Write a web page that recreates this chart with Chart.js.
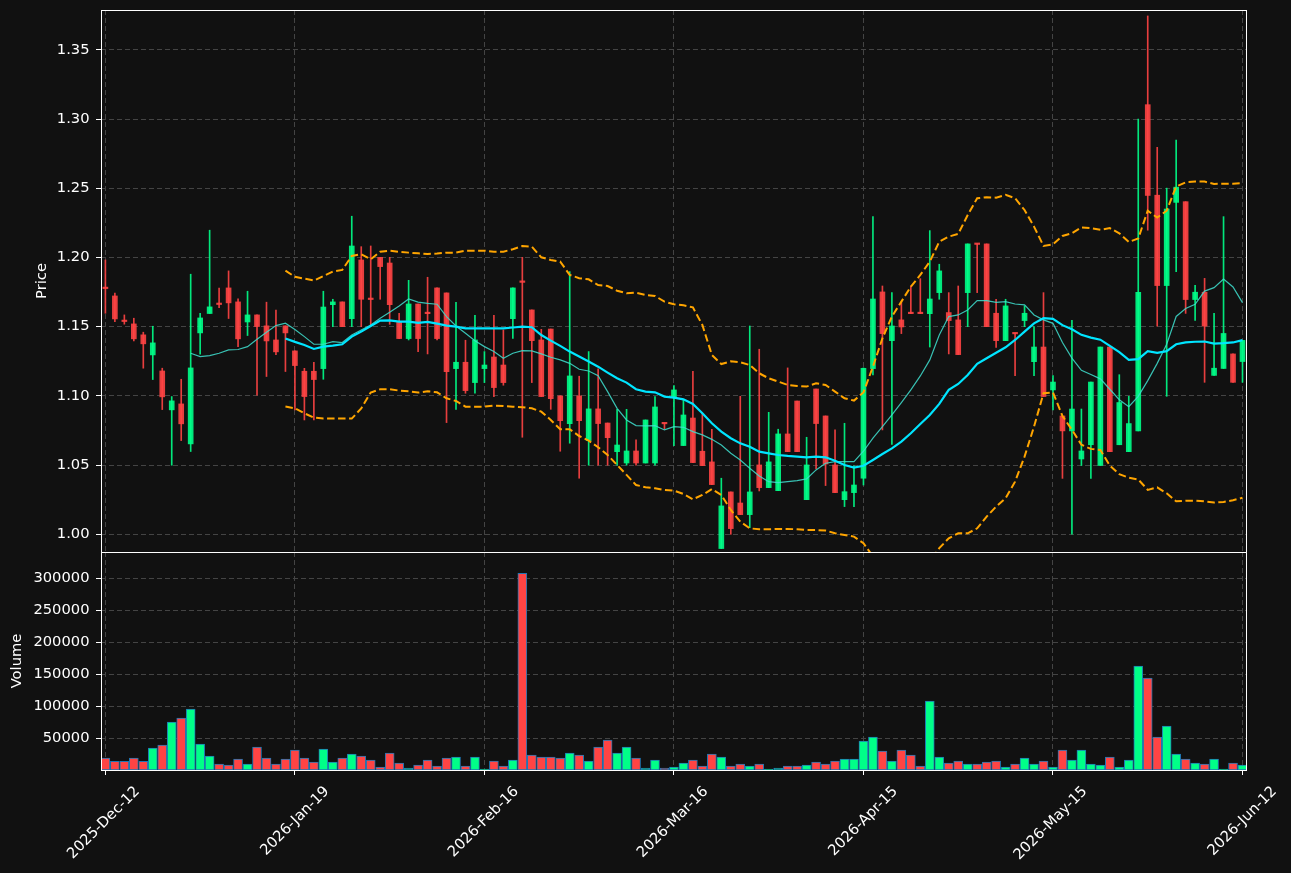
<!DOCTYPE html>
<html>
<head>
<meta charset="utf-8">
<title>Price / Volume</title>
<script src="https://cdn.jsdelivr.net/npm/chart.js@4.4.1/dist/chart.umd.min.js"></script>
<style>
    html, body { margin: 0; padding: 0; background: #111111; }
    #wrap { position: relative; width: 1291px; height: 873px; }
    canvas { position: absolute; left: 0; }
    #price { top: 0; }
    #volume { top: 551px; }
</style>
</head>
<body>
<div id="wrap">
    <canvas id="price" width="1291" height="553"></canvas>
    <canvas id="volume" width="1291" height="322"></canvas>
</div>
<script>
/* ==========================================================================
   Daily candles 2025-Dec-12 .. 2026-Jun-12 (121 sessions, index 0 = first)
   ========================================================================== */

const opens = [
    1.1780, 1.1722, 1.1542, 1.1520, 1.1441, 1.1296, 1.1180, 1.0899, 1.0942, 1.0653,
    1.1455, 1.1595, 1.1663, 1.1780, 1.1679, 1.1534, 1.1585, 1.1506, 1.1404, 1.1506,
    1.1325, 1.1178, 1.1178, 1.1197, 1.1659, 1.1679, 1.1558, 1.1982, 1.1700, 1.2001,
    1.1960, 1.1537, 1.1414, 1.1664, 1.1597, 1.1780, 1.1744, 1.1197, 1.1243, 1.1096,
    1.1197, 1.1281, 1.1223, 1.1558, 1.1823, 1.1621, 1.1404, 1.1483, 1.1000, 1.0799,
    1.1000, 1.0677, 1.0906, 1.0804, 1.0597, 1.0515, 1.0602, 1.0515, 1.0515, 1.0802,
    1.0990, 1.0641, 1.0840, 1.0600, 1.0523, 0.9897, 1.0306, 1.0226, 1.0142, 1.0501,
    1.0337, 1.0315, 1.0725, 1.0963, 1.0250, 1.1050, 1.0855, 1.0501, 1.0250, 1.0301,
    1.0405, 1.1197, 1.1751, 1.1399, 1.1549, 1.1597, 1.1597, 1.1594, 1.1746, 1.1602,
    1.1549, 1.1746, 1.2098, 1.2098, 1.1597, 1.1399, 1.1452, 1.1544, 1.1247, 1.1353,
    1.1043, 1.0855, 1.0747, 1.0544, 1.0647, 1.0497, 1.1353, 1.0647, 1.0597, 1.0747,
    1.3104, 1.2450, 1.1797, 1.2398, 1.2403, 1.1696, 1.1749, 1.1148, 1.1198, 1.1303,
    1.1248
];
const highs = [
    1.1982, 1.1742, 1.1585, 1.1561, 1.1460, 1.1503, 1.1200, 1.0995, 1.1120, 1.1879,
    1.1597, 1.2197, 1.1778, 1.1903, 1.1701, 1.1756, 1.1585, 1.1677, 1.1619, 1.1506,
    1.1325, 1.1199, 1.1243, 1.1756, 1.1698, 1.1679, 1.2298, 1.2078, 1.2083, 1.2001,
    1.2001, 1.1597, 1.1835, 1.1664, 1.1857, 1.1780, 1.1744, 1.1676, 1.1402, 1.1582,
    1.1320, 1.1582, 1.1476, 1.1780, 1.2001, 1.1621, 1.1481, 1.1483, 1.1000, 1.1898,
    1.1142, 1.1320, 1.1195, 1.0804, 1.0903, 1.0903, 1.0682, 1.0826, 1.0995, 1.0802,
    1.1074, 1.0970, 1.1178, 1.0874, 1.0759, 1.0405, 1.0306, 1.0997, 1.1505, 1.1337,
    1.0881, 1.0759, 1.1202, 1.0963, 1.0701, 1.1050, 1.0855, 1.0754, 1.0802, 1.0494,
    1.1202, 1.2295, 1.1794, 1.1746, 1.1681, 1.1794, 1.1847, 1.2194, 1.1951, 1.1746,
    1.1794, 1.2098, 1.2098, 1.2098, 1.1698, 1.1698, 1.1452, 1.1650, 1.1500, 1.1746,
    1.1146, 1.0855, 1.1546, 1.0905, 1.1100, 1.1353, 1.1353, 1.1153, 1.0997, 1.2999,
    1.3745, 1.2796, 1.2501, 1.2849, 1.2403, 1.1799, 1.1849, 1.1596, 1.2295, 1.1303,
    1.1401
];
const lows = [
    1.1597, 1.1537, 1.1518, 1.1397, 1.1200, 1.1118, 1.0901, 1.0499, 1.0677, 1.0598,
    1.1301, 1.1595, 1.1638, 1.1559, 1.1356, 1.1436, 1.1005, 1.1140, 1.1298, 1.1176,
    1.0899, 1.0826, 1.0826, 1.1120, 1.1500, 1.1500, 1.1500, 1.1500, 1.1512, 1.1698,
    1.1517, 1.1414, 1.1404, 1.1320, 1.1303, 1.1404, 1.0807, 1.0903, 1.1019, 1.1019,
    1.1096, 1.0995, 1.1077, 1.1416, 1.0701, 1.1096, 1.0995, 1.0903, 1.0600, 1.0658,
    1.0405, 1.0499, 1.0499, 1.0499, 1.0499, 1.0499, 1.0499, 1.0515, 1.0499, 1.0759,
    1.0641, 1.0641, 1.0518, 1.0496, 1.0359, 0.9897, 1.0000, 1.0142, 1.0048, 1.0313,
    1.0337, 1.0315, 1.0597, 1.0597, 1.0250, 1.0472, 1.0352, 1.0301, 1.0200, 1.0200,
    1.0356, 1.1151, 1.0754, 1.0650, 1.1450, 1.1594, 1.1594, 1.1353, 1.1698, 1.1303,
    1.1298, 1.1500, 1.1746, 1.1500, 1.1351, 1.1399, 1.1146, 1.1500, 1.1146, 1.0995,
    1.0898, 1.0404, 1.0000, 1.0497, 1.0404, 1.0497, 1.0597, 1.0647, 1.0597, 1.0747,
    1.2197, 1.1504, 1.0997, 1.1897, 1.1596, 1.1546, 1.1098, 1.1148, 1.1198, 1.1098,
    1.1098
];
const closes = [
    1.1775, 1.1556, 1.1537, 1.1412, 1.1376, 1.1383, 1.0993, 1.0964, 1.0798, 1.1202,
    1.1563, 1.1643, 1.1660, 1.1672, 1.1412, 1.1585, 1.1501, 1.1397, 1.1318, 1.1455,
    1.1219, 1.0995, 1.1118, 1.1642, 1.1679, 1.1500, 1.2083, 1.1698, 1.1696, 1.1934,
    1.1659, 1.1414, 1.1664, 1.1414, 1.1594, 1.1414, 1.1175, 1.1243, 1.1038, 1.1404,
    1.1223, 1.1060, 1.1096, 1.1780, 1.1820, 1.1399, 1.0995, 1.0980, 1.0821, 1.1144,
    1.0821, 1.0906, 1.0800, 1.0698, 1.0645, 1.0602, 1.0515, 1.0826, 1.0920, 1.0798,
    1.1043, 1.0862, 1.0518, 1.0496, 1.0359, 1.0205, 1.0041, 1.0142, 1.0306, 1.0337,
    1.0523, 1.0725, 1.0597, 1.0597, 1.0501, 1.0800, 1.0508, 1.0301, 1.0308, 1.0356,
    1.1199, 1.1700, 1.1450, 1.1505, 1.1498, 1.1594, 1.1594, 1.1700, 1.1903, 1.1544,
    1.1298, 1.2098, 1.2094, 1.1500, 1.1399, 1.1650, 1.1448, 1.1597, 1.1353, 1.0995,
    1.1100, 1.0747, 1.0905, 1.0602, 1.1100, 1.1353, 1.0597, 1.0952, 1.0800, 1.1749,
    1.2448, 1.1797, 1.2350, 1.2508, 1.1696, 1.1749, 1.1504, 1.1200, 1.1451, 1.1098,
    1.1401
];
const volumes = [
    18750, 13540, 13540, 18750, 13540, 34370, 39060, 75000, 81250, 95300,
    40620, 21870, 9375, 7810, 17190, 9375, 35940, 18750, 9375, 17190,
    31250, 18750, 12500, 32800, 12500, 18750, 25000, 21870, 15620, 4690,
    26560, 10940, 3125, 7810, 15620, 6250, 18750, 20310, 6250, 20310,
    1560, 14060, 6250, 15620, 307800, 23440, 20310, 20310, 18750, 26560,
    23440, 14060, 35940, 46870, 26560, 35940, 18750, 3125, 15620, 3125,
    4690, 10940, 15620, 6250, 25000, 20310, 6250, 9375, 6250, 9375,
    1560, 3125, 6250, 6250, 7810, 12500, 9375, 14060, 17190, 17190,
    45300, 51560, 29690, 14060, 31250, 23440, 6250, 107800, 20310, 10940,
    14060, 9375, 9375, 12500, 14060, 4690, 9375, 18750, 9375, 14060,
    4690, 31250, 15620, 31250, 9375, 7810, 20310, 4690, 15620, 162500,
    143700, 51560, 68750, 25000, 17190, 10940, 9375, 17190, 1560, 10940,
    7810
];

// overlay lines; first value belongs to session MA10_START / MA20_START
const MA10_START = 9;
const ma10 = [
    1.1308, 1.1284, 1.1291, 1.1308, 1.1332, 1.1335, 1.1356, 1.1409, 1.1460, 1.1508, 1.1525,
    1.1480, 1.1428, 1.1373, 1.1373, 1.1392, 1.1385, 1.1440, 1.1476, 1.1512, 1.1561,
    1.1604, 1.1650, 1.1700, 1.1678, 1.1669, 1.1662, 1.1573, 1.1505, 1.1452, 1.1399,
    1.1356, 1.1320, 1.1272, 1.1308, 1.1327, 1.1325, 1.1303, 1.1279, 1.1260, 1.1235,
    1.1192, 1.1180, 1.1146, 1.1031, 1.0910, 1.0826, 1.0785, 1.0783, 1.0785, 1.0754,
    1.0778, 1.0773, 1.0742, 1.0718, 1.0686, 1.0645, 1.0585, 1.0537, 1.0477, 1.0421,
    1.0380, 1.0373, 1.0380, 1.0388, 1.0400, 1.0465, 1.0513, 1.0525, 1.0525, 1.0525,
    1.0600, 1.0694, 1.0778, 1.0862, 1.0951, 1.1043, 1.1144, 1.1260, 1.1440, 1.1573,
    1.1585, 1.1621, 1.1688, 1.1688, 1.1676, 1.1681, 1.1664, 1.1657, 1.1585, 1.1549,
    1.1524, 1.1386, 1.1273, 1.1185, 1.1155, 1.1123, 1.1048, 1.0972, 1.0922, 1.0997,
    1.1110, 1.1235, 1.1373, 1.1574, 1.1631, 1.1661, 1.1757, 1.1782, 1.1844, 1.1787,
    1.1674
];
const MA20_START = 19;
const ma20 = [
    1.1414,
    1.1390, 1.1368, 1.1339, 1.1356, 1.1363, 1.1373, 1.1428, 1.1464, 1.1505, 1.1544,
    1.1546, 1.1537, 1.1537, 1.1527, 1.1534, 1.1522, 1.1508, 1.1500, 1.1488, 1.1488,
    1.1488, 1.1488, 1.1488, 1.1494, 1.1500, 1.1496, 1.1440, 1.1399, 1.1361, 1.1320,
    1.1284, 1.1248, 1.1211, 1.1168, 1.1127, 1.1096, 1.1048, 1.1031, 1.1026, 1.0995,
    1.0987, 1.0975, 1.0942, 1.0874, 1.0802, 1.0742, 1.0694, 1.0657, 1.0633, 1.0597,
    1.0585, 1.0573, 1.0566, 1.0561, 1.0556, 1.0561, 1.0556, 1.0532, 1.0501, 1.0482,
    1.0495, 1.0537, 1.0580, 1.0621, 1.0669, 1.0730, 1.0797, 1.0862, 1.0942, 1.1043,
    1.1086, 1.1151, 1.1231, 1.1272, 1.1312, 1.1351, 1.1404, 1.1464, 1.1524, 1.1561,
    1.1556, 1.1511, 1.1481, 1.1441, 1.1421, 1.1406, 1.1361, 1.1316, 1.1261, 1.1266,
    1.1323, 1.1311, 1.1323, 1.1373, 1.1386, 1.1391, 1.1393, 1.1378, 1.1381, 1.1386,
    1.1403
];
const bbUpper = [
    1.1905,
    1.1860, 1.1847, 1.1833, 1.1866, 1.1898, 1.1910, 1.2011, 1.2023, 1.1987, 1.2042,
    1.2049, 1.2040, 1.2035, 1.2030, 1.2025, 1.2028, 1.2035, 1.2035, 1.2049, 1.2049,
    1.2049, 1.2042, 1.2042, 1.2059, 1.2083, 1.2078, 1.2001, 1.1982, 1.1970, 1.1874,
    1.1850, 1.1842, 1.1801, 1.1794, 1.1760, 1.1741, 1.1746, 1.1729, 1.1722, 1.1681,
    1.1662, 1.1654, 1.1640, 1.1512, 1.1296, 1.1230, 1.1250, 1.1243, 1.1223, 1.1163,
    1.1127, 1.1103, 1.1079, 1.1072, 1.1067, 1.1091, 1.1079, 1.1031, 1.0983, 1.0966,
    1.1025, 1.1211, 1.1416, 1.1573, 1.1681, 1.1789, 1.1874, 1.1970, 1.2114, 1.2151,
    1.2170, 1.2307, 1.2428, 1.2435, 1.2432, 1.2452, 1.2428, 1.2343, 1.2223, 1.2083,
    1.2095, 1.2155, 1.2175, 1.2217, 1.2212, 1.2200, 1.2212, 1.2175, 1.2112, 1.2137,
    1.2338, 1.2288, 1.2338, 1.2513, 1.2543, 1.2548, 1.2548, 1.2531, 1.2533, 1.2533,
    1.2538
];
const bbLower = [
    1.0923,
    1.0910, 1.0874, 1.0843, 1.0836, 1.0836, 1.0836, 1.0836, 1.0910, 1.1024, 1.1048,
    1.1048, 1.1038, 1.1033, 1.1024, 1.1033, 1.1026, 1.0983, 1.0963, 1.0922, 1.0922,
    1.0922, 1.0930, 1.0927, 1.0922, 1.0918, 1.0910, 1.0886, 1.0826, 1.0759, 1.0759,
    1.0710, 1.0677, 1.0629, 1.0573, 1.0501, 1.0429, 1.0356, 1.0340, 1.0332, 1.0320,
    1.0316, 1.0291, 1.0253, 1.0284, 1.0327, 1.0284, 1.0176, 1.0091, 1.0043, 1.0036,
    1.0036, 1.0039, 1.0039, 1.0036, 1.0031, 1.0031, 1.0027, 1.0007, 0.9995, 0.9983,
    0.9935, 0.9840, 0.9750, 0.9680, 0.9660, 0.9680, 0.9720, 0.9800, 0.9900, 0.9971,
    1.0007, 1.0007, 1.0043, 1.0128, 1.0200, 1.0260, 1.0380, 1.0561, 1.0778, 1.1019,
    1.1025, 1.0855, 1.0755, 1.0647, 1.0617, 1.0609, 1.0497, 1.0434, 1.0409, 1.0396,
    1.0321, 1.0339, 1.0296, 1.0238, 1.0243, 1.0243, 1.0238, 1.0229, 1.0234, 1.0246,
    1.0264
];

// axis ticks
const tickIdx = [0, 20, 40, 60, 80, 100, 120];
const tickLabels = ['2025-Dec-12', '2026-Jan-19', '2026-Feb-16', '2026-Mar-16', '2026-Apr-15', '2026-May-15', '2026-Jun-12'];
const priceTicks = [1.00, 1.05, 1.10, 1.15, 1.20, 1.25, 1.30, 1.35];
const volumeTicks = [50000, 100000, 150000, 200000, 250000, 300000];

/* --- styling ------------------------------------------------------------ */
const UP = 'rgba(0,255,136,0.9)';
const DOWN = 'rgba(255,68,68,0.9)';
const VOL_UP = '#00ff88';
const VOL_DOWN = '#ff4444';
const GRID = '#444444';
const TEXT = '#ffffff';
const FONT = { family: 'DejaVu Sans', size: 14.7 };
const X_MIN = -0.464, X_MAX = 120.37;

const idx = opens.map((_, i) => i);
const isUp = idx.map(i => closes[i] >= opens[i]);

// pin axis sizes so both panels share the same plot width
function pin(key, size) {
    return (scale) => {
        scale[key] = size;
        scale.paddingTop = 0; scale.paddingBottom = 0;
        scale.paddingLeft = 0; scale.paddingRight = 0;
    };
}
const setTicks = (values) => (scale) => { scale.ticks = values.map(v => ({ value: v })); };

// white frame round the plot area (matplotlib spines)
const framePlugin = {
    id: 'frame',
    afterDraw(chart) {
        const { ctx, chartArea: a } = chart;
        ctx.save();
        ctx.strokeStyle = '#ffffff';
        ctx.lineWidth = 1;
        ctx.strokeRect(Math.round(a.left) + 0.5, Math.round(a.top) + 0.5,
            Math.round(a.right - a.left), Math.round(a.bottom - a.top));
        ctx.restore();
    }
};

const series = (arr, start) => arr.map((v, k) => ({ x: k + start, y: v }));

const lineSet = (label, data, color, width, dash, order) => ({
    type: 'line', label, data,
    borderColor: color, borderWidth: width, borderDash: dash || [],
    pointRadius: 0, fill: false, tension: 0, order,
});

/* --- price panel -------------------------------------------------------- */
new Chart(document.getElementById('price'), {
    type: 'bar',
    data: {
        datasets: [
            lineSet('MA20', series(ma20, MA20_START), '#00e5ff', 2.2, null, 0),
            lineSet('MA10', series(ma10, MA10_START), 'rgba(64,224,208,0.85)', 1.2, null, 1),
            lineSet('BB upper', series(bbUpper, MA20_START), '#ffa500', 2, [7.5, 3.5], 2),
            lineSet('BB lower', series(bbLower, MA20_START), '#ffa500', 2, [7.5, 3.5], 2),
            {
                label: 'body',
                data: idx.map(i => ({ x: i, y: [opens[i], closes[i]] })),
                backgroundColor: idx.map(i => isUp[i] ? UP : DOWN),
                barThickness: 5, minBarLength: 1.5, grouped: false, order: 5,
            },
            {
                label: 'wick',
                data: idx.map(i => ({ x: i, y: [lows[i], highs[i]] })),
                backgroundColor: idx.map(i => isUp[i] ? UP : DOWN),
                barThickness: 1, grouped: false, order: 6,
            }
        ]
    },
    options: {
        responsive: false, animation: false, devicePixelRatio: 1,
        layout: { padding: { top: 10, right: 45, left: 0, bottom: 0 } },
        plugins: { legend: { display: false }, tooltip: { enabled: false } },
        scales: {
            x: {
                type: 'linear', min: X_MIN, max: X_MAX, offset: false,
                grid: { offset: false, color: GRID, drawTicks: false },
                border: { display: false, dash: [5, 3] },
                ticks: { display: false },
                afterBuildTicks: setTicks(tickIdx),
                afterFit: pin('height', 1),
            },
            y: {
                type: 'linear', position: 'left', min: 0.9872, max: 1.3788,
                grid: { color: GRID, tickColor: TEXT, tickLength: 5 },
                border: { display: false, dash: [5, 3] },
                ticks: { color: TEXT, font: FONT, padding: 6.5, callback: v => v.toFixed(2) },
                afterBuildTicks: setTicks(priceTicks),
                title: { display: true, text: 'Price', color: TEXT, font: FONT, padding: { top: 33, bottom: 0 } },
                afterFit: pin('width', 101),
            }
        }
    },
    plugins: [framePlugin]
});

/* --- volume panel ------------------------------------------------------- */
new Chart(document.getElementById('volume'), {
    type: 'bar',
    data: {
        datasets: [{
            label: 'Volume',
            data: idx.map(i => ({ x: i, y: volumes[i] })),
            backgroundColor: idx.map(i => isUp[i] ? VOL_UP : VOL_DOWN),
            borderColor: '#1f77b4', borderWidth: 1, borderSkipped: false,
            barThickness: 9, grouped: false,
        }]
    },
    options: {
        responsive: false, animation: false, devicePixelRatio: 1,
        layout: { padding: { top: 1, right: 45, left: 0, bottom: 0 } },
        plugins: { legend: { display: false }, tooltip: { enabled: false } },
        scales: {
            x: {
                type: 'linear', min: X_MIN, max: X_MAX, offset: false,
                grid: { offset: false, color: GRID, tickColor: TEXT, tickLength: 5 },
                border: { display: false, dash: [5, 3] },
                ticks: {
                    color: TEXT, font: FONT, autoSkip: false,
                    minRotation: 45, maxRotation: 45, labelOffset: 32, padding: 8,
                    callback: v => { const k = tickIdx.indexOf(v); return k >= 0 ? tickLabels[k] : ''; }
                },
                afterBuildTicks: setTicks(tickIdx),
                afterFit: pin('height', 103),
            },
            y: {
                type: 'linear', position: 'left', min: 0, max: 341000,
                grid: { color: GRID, tickColor: TEXT, tickLength: 5 },
                border: { display: false, dash: [5, 3] },
                ticks: { color: TEXT, font: FONT, padding: 6.5, callback: v => String(v) },
                afterBuildTicks: setTicks(volumeTicks),
                title: { display: true, text: 'Volume', color: TEXT, font: FONT, padding: { top: 8, bottom: 0 } },
                afterFit: pin('width', 101),
            }
        }
    },
    plugins: [framePlugin]
});
</script>
</body>
</html>
